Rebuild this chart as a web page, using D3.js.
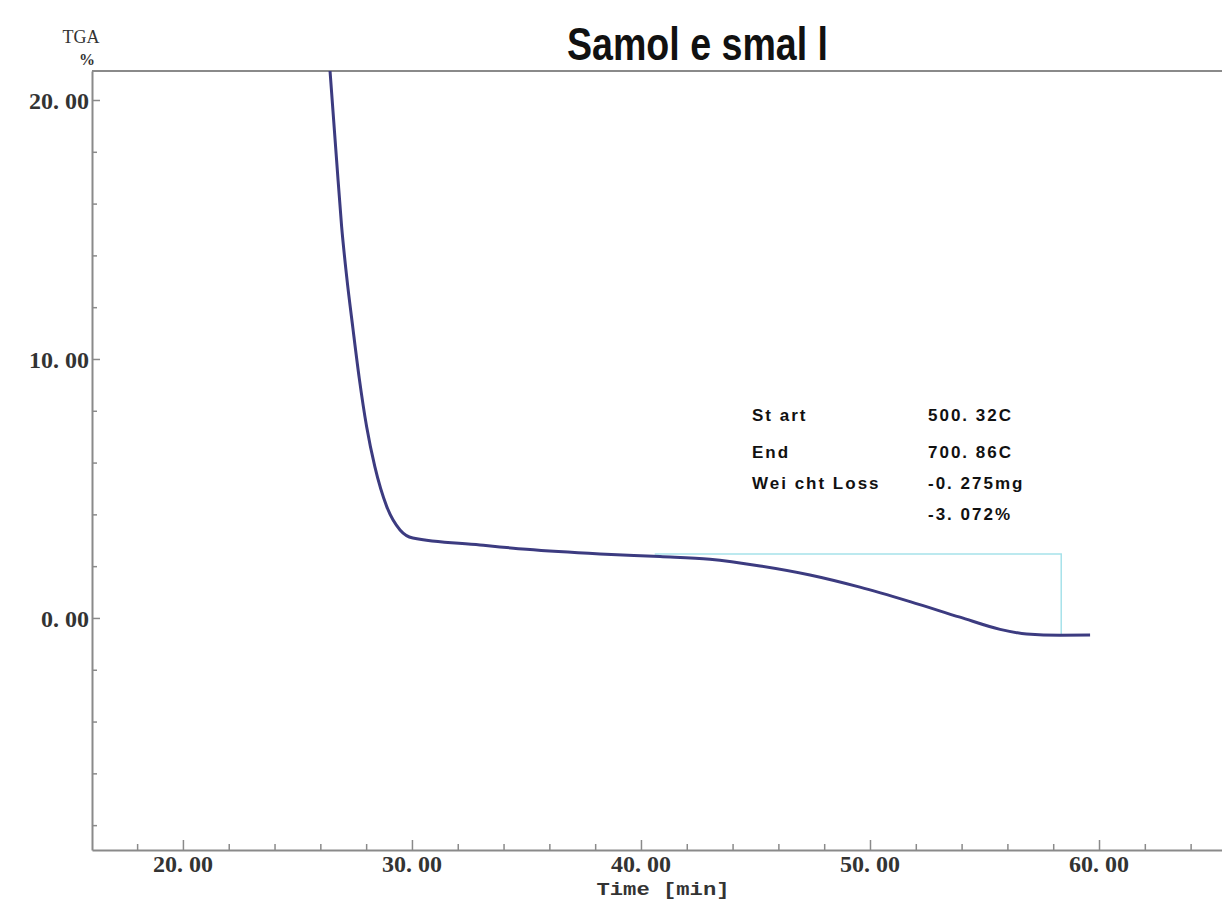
<!doctype html>
<html>
<head>
<meta charset="utf-8">
<script src="https://d3js.org/d3.v7.min.js"></script>
<style>
  body { margin:0; background:#fff; }
  svg { display:block; }
</style>
</head>
<body>
<svg id="chart" width="1222" height="902"></svg>
<script>
// TGA curve
var timeMin = [26.40, 26.71, 26.93, 27.15, 27.42, 27.70, 28.02, 28.38, 28.90, 29.48, 30.04, 32.97, 35.00, 38.21, 40.83, 43.01, 45.20, 47.38, 49.56, 51.75, 53.93, 55.68, 56.84, 58.30, 59.61]
var tgaPct  = [21.40, 17.68, 15.11, 13.18, 11.20,  9.25,  7.39,  5.84,  4.30,  3.40,  3.09,  2.82,  2.65,  2.47,  2.37,  2.27,  2.01,  1.66,  1.19,  0.63,  0.03, -0.44, -0.62, -0.67, -0.66]

// step baseline (start / end of the weight loss step)
var stepTime  = [40.6, 58.35, 58.35]
var stepLevel = [2.47, 2.47, -0.68]

var xMajor = [20, 30, 40, 50, 60]
var yMajor = [0, 10, 20]
var title = "Samol e smal l"
var infoLabels = ["St art", "End", "Wei cht Loss", ""]
var infoValues = ["500. 32C", "700. 86C", "-0. 275mg", "-3. 072%"]

var svg = d3.select("#chart")
var x = d3.scaleLinear().domain([16.03, 65.37]).range([92, 1222])
var y = d3.scaleLinear().domain([-8.96, 21.12]).range([850, 71])
var axisColor = "#8a8a8a"
var fmt = function(d){ return d3.format(".2f")(d).replace(".", ". ") }

svg.append("defs").append("clipPath").attr("id", "plotclip")
    .append("rect").attr("x", x.range()[0]).attr("y", y.range()[1])
    .attr("width", x.range()[1] - x.range()[0]).attr("height", y.range()[0] - y.range()[1])

// frame line on top
svg.append("line").attr("x1", x.range()[0]).attr("x2", x.range()[1]).attr("y1", y.range()[1]).attr("y2", y.range()[1])
    .attr("stroke", axisColor).attr("stroke-width", 2)

// x axis, ticks inward
var gx = svg.append("g").attr("transform", "translate(0," + y.range()[0] + ")")
gx.call(d3.axisTop(x).tickValues(d3.range(18, 66, 2)).tickSizeInner(6).tickSizeOuter(0).tickFormat(""))
gx.call(function(g){
    g.select(".domain").attr("stroke", axisColor).attr("stroke-width", 2)
    g.selectAll(".tick line").attr("stroke", axisColor).attr("stroke-width", 1.5)
        .attr("y2", function(d){ return xMajor.indexOf(d) >= 0 ? -10 : -6 })
})
svg.append("g").selectAll("text").data(xMajor).join("text")
    .attr("x", function(d){ return x(d) }).attr("y", 872)
    .attr("text-anchor", "middle")
    .style("font-family", "Liberation Serif").style("font-size", "24px").style("font-weight", "bold")
    .attr("fill", "#333").text(fmt)

// y axis, ticks inward
var gy = svg.append("g").attr("transform", "translate(" + x.range()[0] + ",0)")
gy.call(d3.axisRight(y).tickValues(d3.range(-8, 22, 2)).tickSizeInner(5).tickSizeOuter(0).tickFormat(""))
gy.call(function(g){
    g.select(".domain").attr("stroke", axisColor).attr("stroke-width", 2)
    g.selectAll(".tick line").attr("stroke", axisColor).attr("stroke-width", 1.5)
        .attr("x2", function(d){ return yMajor.indexOf(d) >= 0 ? 8 : 5 })
})
svg.append("g").selectAll("text").data(yMajor).join("text")
    .attr("x", 89).attr("y", function(d){ return y(d) + 9 })
    .attr("text-anchor", "end")
    .style("font-family", "Liberation Serif").style("font-size", "24px").style("font-weight", "bold")
    .attr("fill", "#333").text(fmt)

// axis titles
svg.append("text").attr("x", 81).attr("y", 43).attr("text-anchor", "middle")
    .style("font-family", "Liberation Serif").style("font-size", "18px").attr("fill", "#333").text("TGA")
svg.append("text").attr("x", 87).attr("y", 65).attr("text-anchor", "middle")
    .style("font-family", "Liberation Serif").style("font-size", "16px").style("font-weight", "bold").attr("fill", "#333").text("%")
svg.append("text").attr("x", 663).attr("y", 895).attr("text-anchor", "middle")
    .attr("textLength", 133).attr("lengthAdjust", "spacingAndGlyphs")
    .style("font-family", "Liberation Mono").style("font-size", "19px").style("font-weight", "bold")
    .attr("fill", "#333").text("Time [min]")

// title
svg.append("text").attr("x", 567).attr("y", 60)
    .attr("textLength", 261).attr("lengthAdjust", "spacingAndGlyphs")
    .style("font-family", "Liberation Sans").style("font-size", "46px").style("font-weight", "bold")
    .attr("fill", "#111").text(title)

var plot = svg.append("g").attr("clip-path", "url(#plotclip)")

// step baseline
var stepPts = d3.zip(stepTime, stepLevel)
plot.append("path").datum(stepPts)
    .attr("d", d3.line().x(function(d){ return x(d[0]) }).y(function(d){ return y(d[1]) }))
    .attr("fill", "none").attr("stroke", "#a6e2ea").attr("stroke-width", 1.5)

// curve
var pts = d3.zip(timeMin, tgaPct)
plot.append("path").datum(pts)
    .attr("d", d3.line().curve(d3.curveMonotoneX).x(function(d){ return x(d[0]) }).y(function(d){ return y(d[1]) }))
    .attr("fill", "none").attr("stroke", "#3c3b80").attr("stroke-width", 3)

// info block
var rowsY = [421, 458, 489, 520]
var info = svg.append("g").style("font-family", "Liberation Sans")
    .style("font-size", "17px").style("font-weight", "bold").style("letter-spacing", "2px").attr("fill", "#111")
info.selectAll("text.lab").data(infoLabels).join("text").attr("class", "lab")
    .attr("x", 752).attr("y", function(d, i){ return rowsY[i] }).text(function(d){ return d })
info.selectAll("text.val").data(infoValues).join("text").attr("class", "val")
    .attr("x", 928).attr("y", function(d, i){ return rowsY[i] }).text(function(d){ return d })
</script>
</body>
</html>
